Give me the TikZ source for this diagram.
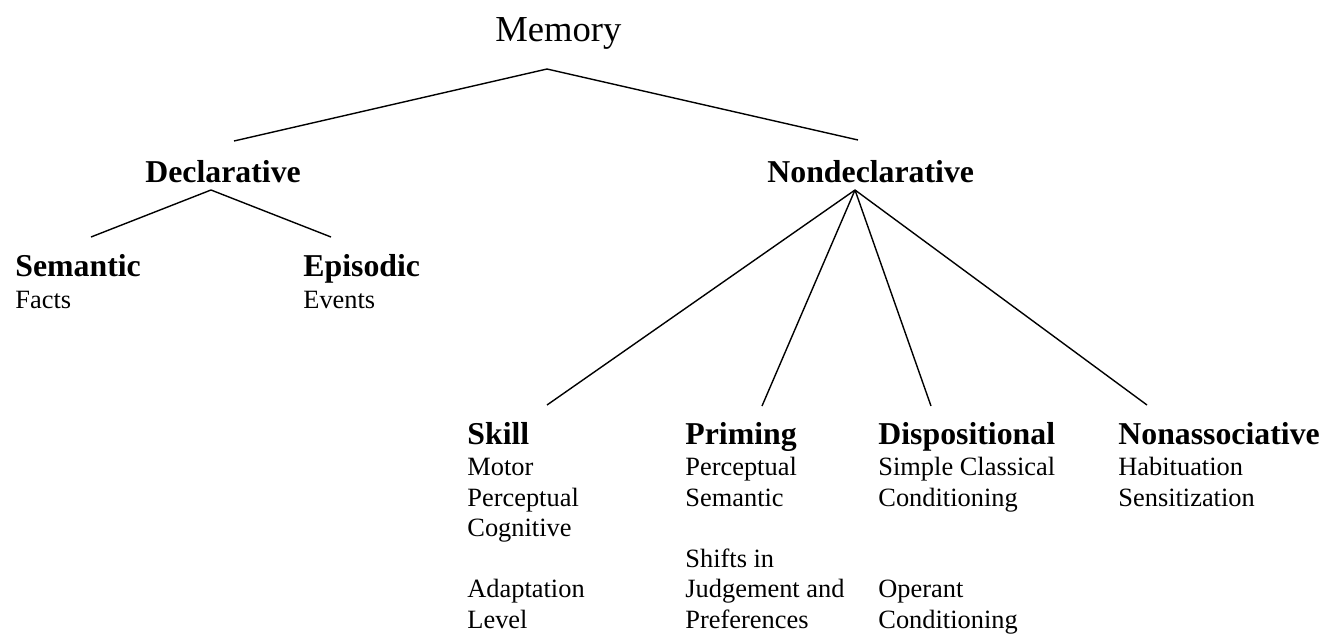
\documentclass[tikz,border=0pt]{standalone}
\usepackage{fontspec}
\setmainfont{Liberation Serif}
\usetikzlibrary{positioning}
\newcommand{\branchhead}[1]{{\fontsize{15.9}{18}\selectfont\bfseries #1}}

\begin{document}
\begin{tikzpicture}[x=0.5pt, y=-0.5pt,
    every node/.style={inner sep=0pt, anchor=base west},
    title/.style={font=\fontsize{15.9}{18}\selectfont\bfseries},
    branch/.style={align=left, font=\fontsize{13.2}{15.25}\selectfont},
    edge/.style={line width=0.7pt}]
\useasboundingbox (0,0) rectangle (1338,638);
% top levels
\node[font=\fontsize{18.3}{22}\selectfont] (mem) at (495,41) {Memory};
\node[title] (decl) at (145,182) {Declarative};
\node[title] (nondecl) at (767,182) {Nondeclarative};
% declarative branches (placed by their last line)
\node[branch] (sem) at (15,308) {\branchhead{Semantic}\\[0.5pt] Facts};
\node[branch] (epi) at (303,308) {\branchhead{Episodic}\\[0.5pt] Events};
% nondeclarative branches
\node[branch] (skill) at (467,628) {\branchhead{Skill}\\[0.5pt] Motor\\ Perceptual\\ Cognitive\\[15.25pt] Adaptation\\ Level};
\node[branch] (prim) at (685,628) {\branchhead{Priming}\\[0.5pt] Perceptual\\ Semantic\\[15.25pt] Shifts in\\ Judgement and\\ Preferences};
\node[branch] (disp) at (878,628) {\branchhead{Dispositional}\\[0.5pt] Simple Classical\\ Conditioning\\[30.5pt] Operant\\ Conditioning};
\node[branch] (nonassoc) at (1118,506) {\branchhead{Nonassociative}\\[0.5pt] Habituation\\ Sensitization};
% line ends
\coordinate (mem-fork) at (547,69);
\coordinate (decl-in) at (234,141);
\coordinate (nondecl-in) at (858,140);
\coordinate (decl-fork) at (211,190);
\coordinate (sem-in) at (91,237);
\coordinate (epi-in) at (331,237);
\coordinate (nondecl-fork) at (855,190);
\coordinate (skill-in) at (547,405);
\coordinate (prim-in) at (762,406);
\coordinate (disp-in) at (931,406);
\coordinate (nonassoc-in) at (1147,405);
\draw[edge] (decl-in) -- (mem-fork) -- (nondecl-in);
\draw[edge] (sem-in) -- (decl-fork) -- (epi-in);
\foreach \b in {skill, prim, disp, nonassoc}
  \draw[edge] (nondecl-fork) -- (\b-in);
\end{tikzpicture}
\end{document}
